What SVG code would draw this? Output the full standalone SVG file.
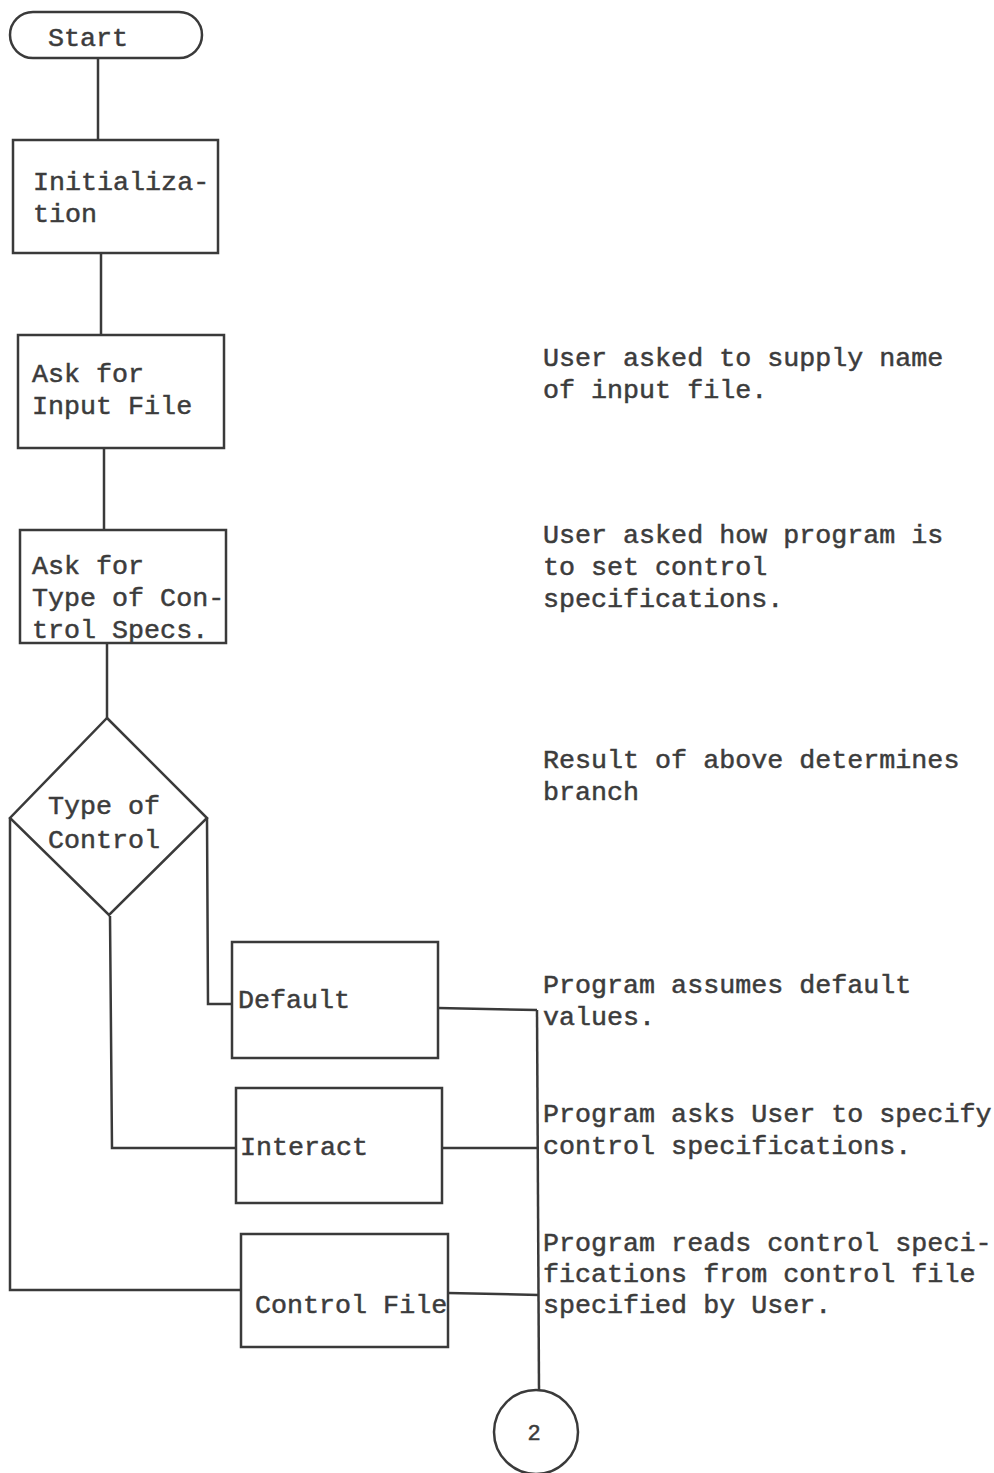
<svg xmlns="http://www.w3.org/2000/svg" width="994" height="1473" viewBox="0 0 994 1473">
<style>
.s{fill:none;stroke:#3a3a3a;stroke-width:2.5}
.t{font-family:"Liberation Mono","DejaVu Sans Mono",monospace;font-size:26.7px;fill:#3c3c3c;stroke:#3c3c3c;stroke-width:0.5}
</style>
<rect width="994" height="1473" fill="#ffffff"/>
<g id="connectors" class="s">
<path d="M98 58V140"/>
<path d="M101 253V335"/>
<path d="M104 448V530"/>
<path d="M107 643V718"/>
<path d="M10 818V1290H242"/>
<path d="M110 916L112 1148H236"/>
<path d="M207 818L208 1004H232"/>
<path d="M438 1008L537 1010"/>
<path d="M442 1148H537"/>
<path d="M448 1293L539 1295"/>
<path d="M537 1010L539 1390"/>
</g>
<g id="start">
<rect class="s" x="10" y="12" width="192" height="46" rx="23"/>
<text class="t" x="48" y="46">Start</text>
</g>
<g id="init">
<rect class="s" x="13" y="140" width="205" height="113"/>
<text class="t" x="33" y="190">Initializa-</text>
<text class="t" x="33" y="222">tion</text>
</g>
<g id="askInput">
<rect class="s" x="18" y="335" width="206" height="113"/>
<text class="t" x="32" y="382">Ask for</text>
<text class="t" x="32" y="414">Input File</text>
</g>
<g id="askType">
<rect class="s" x="20" y="530" width="206" height="113"/>
<text class="t" x="32" y="574">Ask for</text>
<text class="t" x="32" y="606">Type of Con-</text>
<text class="t" x="32" y="638">trol Specs.</text>
</g>
<g id="decision">
<polygon class="s" points="107,718 207,818 109,915 10,818"/>
<text class="t" x="48" y="814">Type of</text>
<text class="t" x="48" y="848">Control</text>
</g>
<g id="default">
<rect class="s" x="232" y="942" width="206" height="116"/>
<text class="t" x="238" y="1008">Default</text>
</g>
<g id="interact">
<rect class="s" x="236" y="1088" width="206" height="115"/>
<text class="t" x="240" y="1155">Interact</text>
</g>
<g id="controlFile">
<rect class="s" x="241" y="1234" width="207" height="113"/>
<text class="t" x="255" y="1313">Control File</text>
</g>
<g id="connector2">
<circle class="s" cx="536" cy="1432" r="42"/>
<text class="t" x="534" y="1440" text-anchor="middle" style="font-size:22px">2</text>
</g>
<g id="notes">
<text class="t" x="543" y="366">User asked to supply name</text>
<text class="t" x="543" y="398">of input file.</text>
<text class="t" x="543" y="543">User asked how program is</text>
<text class="t" x="543" y="575">to set control</text>
<text class="t" x="543" y="607">specifications.</text>
<text class="t" x="543" y="768">Result of above determines</text>
<text class="t" x="543" y="800">branch</text>
<text class="t" x="543" y="993">Program assumes default</text>
<text class="t" x="543" y="1025">values.</text>
<text class="t" x="543" y="1122">Program asks User to specify</text>
<text class="t" x="543" y="1154">control specifications.</text>
<text class="t" x="543" y="1251">Program reads control speci-</text>
<text class="t" x="543" y="1282">fications from control file</text>
<text class="t" x="543" y="1313">specified by User.</text>
</g>
</svg>
